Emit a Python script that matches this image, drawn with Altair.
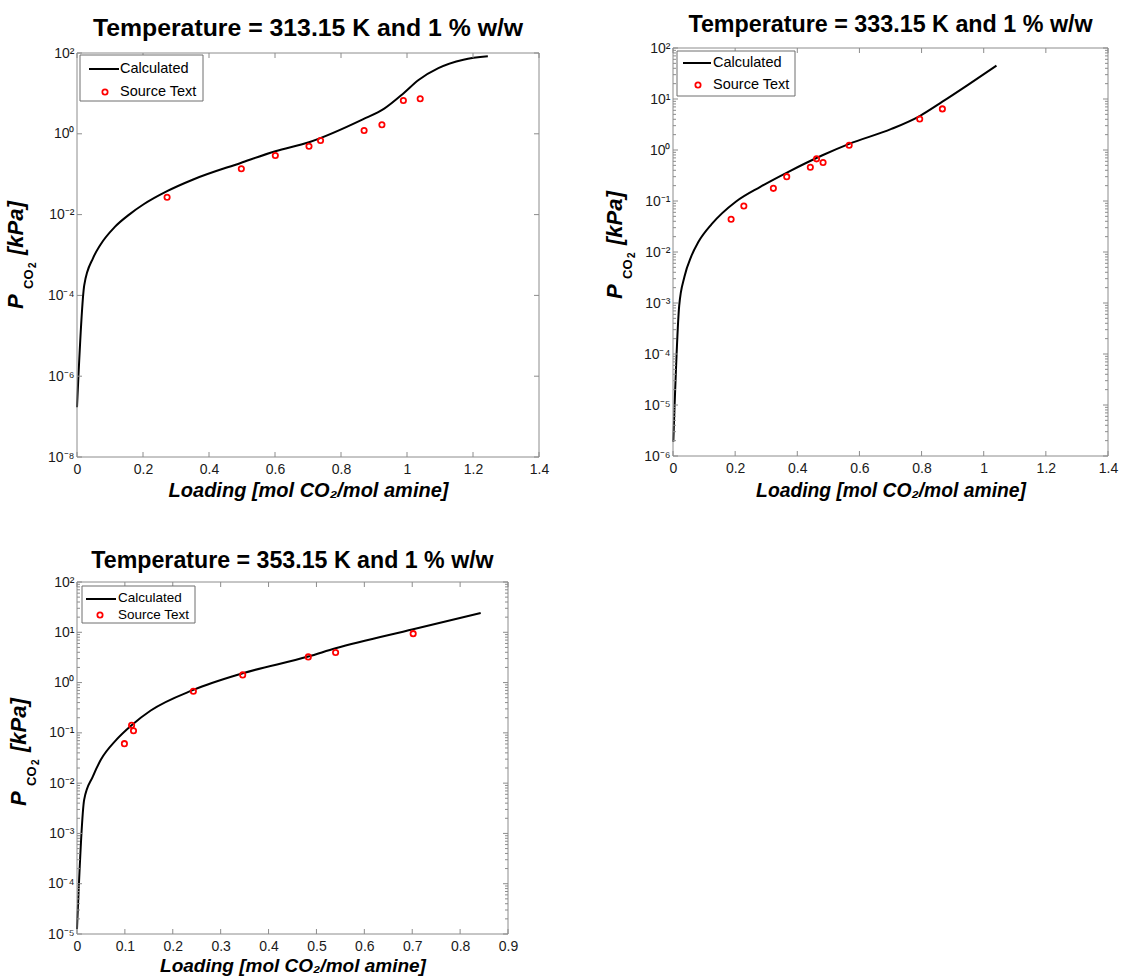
import altair as alt
import pandas as pd

# ---------------- data: CO2 partial pressure vs. loading ----------------
# 313.15 K
calc1_x = [0.000, 0.022, 0.049, 0.071, 0.114, 0.158, 0.202, 0.273, 0.354, 0.496,
           0.601, 0.703, 0.866, 0.931, 0.989, 1.035, 1.095, 1.171, 1.245]
calc1_p = [1.7e-7, 1.8e-4, 8.5e-4, 1.8e-3, 4.9e-3, 1.0e-2, 1.8e-2, 3.8e-2, 7.5e-2, 0.19,
           0.37, 0.62, 2.28, 4.2, 10.0, 21.5, 42.2, 68.1, 82.6]
src1_x = [0.273, 0.498, 0.601, 0.703, 0.738, 0.870, 0.924, 0.989, 1.040]
src1_p = [0.027, 0.136, 0.29, 0.49, 0.68, 1.21, 1.68, 6.7, 7.4]

# 333.15 K
calc2_x = [0.001, 0.020, 0.037, 0.059, 0.081, 0.125, 0.203, 0.281, 0.370, 0.481,
           0.567, 0.703, 0.794, 0.867, 0.947, 1.041]
calc2_p = [1.9e-6, 8.9e-4, 3.3e-3, 8.3e-3, 1.55e-2, 3.55e-2, 0.098, 0.19, 0.37, 0.79,
           1.32, 2.59, 4.64, 8.85, 18.5, 45.0]
src2_x = [0.187, 0.228, 0.323, 0.366, 0.442, 0.462, 0.483, 0.567, 0.794, 0.867]
src2_p = [0.044, 0.080, 0.177, 0.30, 0.46, 0.67, 0.57, 1.24, 4.04, 6.4]

# 353.15 K
calc3_x = [0.000, 0.015, 0.033, 0.050, 0.081, 0.114, 0.154, 0.243, 0.346, 0.483,
           0.540, 0.702, 0.843]
calc3_p = [1.26e-5, 4.7e-3, 1.35e-2, 2.95e-2, 7.1e-2, 0.142, 0.278, 0.715, 1.53, 3.29,
           4.81, 11.5, 24.2]
src3_x = [0.099, 0.114, 0.118, 0.243, 0.346, 0.483, 0.540, 0.702]
src3_p = [0.061, 0.142, 0.11, 0.67, 1.42, 3.24, 3.95, 9.4]

titles = ["Temperature = 313.15 K and 1 % w/w",
          "Temperature = 333.15 K and 1 % w/w",
          "Temperature = 353.15 K and 1 % w/w"]
x_ticks_14 = [0, 0.2, 0.4, 0.6, 0.8, 1.0, 1.2, 1.4]
x_ticks_09 = [0, 0.1, 0.2, 0.3, 0.4, 0.5, 0.6, 0.7, 0.8, 0.9]
series_names = ["Calculated", "Source Text"]

# ---------------- styling ----------------
FONT = "Liberation Sans"
FRAME = "#8c8c8c"
SUP = str.maketrans("-0123456789", "\u207b\u2070\u00b9\u00b2\u00b3\u2074\u2075\u2076\u2077\u2078\u2079")


def decade_label(e):
    return "10" + str(e).translate(SUP)


def panel(title, cx, cp, sx, sp, x_ticks, exp_lo, exp_hi, label_exps, minor,
          w, h, pad, title_size, title_base, head_room, xtitle_size, xtitle_y,
          ytitle_x, ytitle_shift, leg):
    """One axes box.  `pad` leaves empty space above the plotting frame."""
    H = h + pad
    xs = alt.Scale(domain=[x_ticks[0], x_ticks[-1]], nice=False, zero=False)
    ys = alt.Scale(type="log", domain=[10.0 ** exp_lo, 10.0 ** exp_hi], nice=False,
                   range=[H, pad])

    names = [decade_label(e) for e in range(exp_lo, exp_hi + 1)]
    label_expr = ("[" + ",".join("'%s'" % n for n in names) + "]"
                  "[round(log(datum.value) / LN10) - (%d)]" % exp_lo)
    major_y = [10.0 ** e for e in label_exps]

    x_axis = alt.Axis(values=x_ticks, format=".1~f",
                      title="Loading [mol CO\u2082/mol amine]",
                      titleFont=FONT, titleFontSize=xtitle_size, titleFontWeight="bold",
                      titleFontStyle="italic", titleColor="black",
                      titleY=xtitle_y, titleBaseline="alphabetic", labelPadding=5)
    y_axis = alt.Axis(values=major_y, labelExpr=label_expr, title="", labelPadding=3)

    def X(field):
        return alt.X(field, scale=xs, axis=x_axis)

    def Y(field):
        return alt.Y(field, scale=ys, axis=y_axis)

    calc = pd.DataFrame({"loading": cx, "p": cp})
    src = pd.DataFrame({"loading": sx, "p": sp})

    line = alt.Chart(calc).mark_line(color="black", strokeWidth=2, interpolate="monotone").encode(
        x=X("loading:Q"), y=Y("p:Q"))
    pts = alt.Chart(src).mark_point(shape="circle", filled=False, color="#ff0000",
                                    strokeWidth=1.8, size=28, opacity=1).encode(
        x=X("loading:Q"), y=Y("p:Q"))

    def ticks(vals, orient, length):
        base = alt.Chart(pd.DataFrame({"v": vals})).mark_rule(color=FRAME, strokeWidth=1)
        if orient in ("bottom", "top"):
            y0, y1 = (H, H - length) if orient == "bottom" else (pad, pad + length)
            return base.encode(x=X("v:Q"), y=alt.value(y0), y2=alt.value(y1))
        x0, x1 = (0, length) if orient == "left" else (w - length, w)
        return base.encode(y=Y("v:Q"), x=alt.value(x0), x2=alt.value(x1))

    layers = [line, pts,
              ticks(x_ticks, "bottom", 5), ticks(x_ticks, "top", 5),
              ticks(major_y, "left", 5), ticks(major_y, "right", 5)]
    if minor:
        minor_y = [k * 10.0 ** e for e in range(exp_lo, exp_hi) for k in range(2, 10)]
        layers += [ticks(minor_y, "left", 3), ticks(minor_y, "right", 3)]

    one = pd.DataFrame({"k": [0]})

    # axes frame
    layers.append(alt.Chart(one).mark_rect(fill="transparent", stroke=FRAME, strokeWidth=1).encode(
        x=alt.value(0), x2=alt.value(w), y=alt.value(pad), y2=alt.value(H)))

    # panel heading
    layers.append(alt.Chart(one).mark_text(align="center", baseline="alphabetic", font=FONT,
                                           fontSize=title_size, fontWeight="bold",
                                           color="black").encode(
        x=alt.value(w / 2), y=alt.value(-title_base), text=alt.value(title)))

    # invisible rule reserving head room above the heading
    if head_room:
        layers.append(alt.Chart(one).mark_rule(opacity=0).encode(
            x=alt.value(w / 2), x2=alt.value(w / 2 + 1), y=alt.value(-head_room)))

    # legend box
    bx0, bx1, by0, by1 = leg["box"]
    layers.append(alt.Chart(one).mark_rect(fill="white", stroke="#6e6e6e", strokeWidth=1).encode(
        x=alt.value(bx0), x2=alt.value(bx1), y=alt.value(pad + by0), y2=alt.value(pad + by1)))
    lx0, lx1, ly = leg["line"]
    layers.append(alt.Chart(one).mark_rule(color="black", strokeWidth=2).encode(
        x=alt.value(lx0), x2=alt.value(lx1), y=alt.value(pad + ly)))
    cxp, cyp = leg["circle"]
    layers.append(alt.Chart(one).mark_point(shape="circle", filled=False, color="#ff0000",
                                            strokeWidth=1.8, size=28, opacity=1).encode(
        x=alt.value(cxp), y=alt.value(pad + cyp)))
    tx, ty1, ty2 = leg["text"]
    for label, ty in zip(series_names, (ty1, ty2)):
        layers.append(alt.Chart(one).mark_text(align="left", baseline="middle", font=FONT,
                                               fontSize=leg["size"], color="black").encode(
            x=alt.value(tx), y=alt.value(pad + ty), text=alt.value(label)))

    # rotated y-axis title: P_{CO_2} [kPa]
    bottom = pad + h / 2 + ytitle_shift
    pieces = [("P", 22, "italic", 0, ytitle_x),
              ("CO", 13, "normal", 20, ytitle_x + 10),
              ("2", 10, "normal", 41, ytitle_x + 13),
              ("[kPa]", 22, "italic", 54, ytitle_x)]
    for txt, fs, style, off, xb in pieces:
        layers.append(alt.Chart(one).mark_text(angle=270, align="left", baseline="alphabetic",
                                               font=FONT, fontSize=fs, fontWeight="bold",
                                               fontStyle=style, color="black").encode(
            x=alt.value(xb), y=alt.value(bottom - off), text=alt.value(txt)))

    return alt.layer(*layers).properties(width=w, height=H)


p1 = panel(titles[0], calc1_x, calc1_p, src1_x, src1_p, x_ticks_14, -8, 2, [-8, -6, -4, -2, 0, 2],
           False, 462, 404, 5, 24.8, 12, 0, 20, 39, -54, 54,
           {"box": (3, 126, 2, 48), "line": (12, 42, 16), "circle": (28, 39),
            "text": (43, 16, 39), "size": 14.5})
p2 = panel(titles[1], calc2_x, calc2_p, src2_x, src2_p, x_ticks_14, -6, 2, list(range(-6, 3)),
           True, 435, 408, 0, 23.3, 16, 40, 19.3, 40, -51, 47,
           {"box": (4, 122, 3, 48), "line": (10, 38, 15), "circle": (25, 37),
            "text": (40, 15, 37), "size": 14.5})
p3 = panel(titles[2], calc3_x, calc3_p, src3_x, src3_p, x_ticks_09, -5, 2, list(range(-5, 3)),
           True, 431, 352, 0, 23.2, 14, 0, 19, 37, -51, 48,
           {"box": (5, 118, 4, 41), "line": (9, 39, 17), "circle": (23, 33),
            "text": (41, 16, 33), "size": 13.5})

chart = alt.vconcat(alt.hconcat(p1, p2, spacing=55), p3, spacing=48).properties(
    padding={"left": 5, "top": 8, "right": 5, "bottom": 5},
    background="white",
).configure_view(stroke=None).configure_axis(
    domain=False, ticks=False, grid=False, labelFont=FONT, labelFontSize=14,
    labelColor="#1a1a1a", labelFlush=False, labelOverlap=False,
)

chart.save("out.html", embed_options={"renderer": "svg", "actions": False})
